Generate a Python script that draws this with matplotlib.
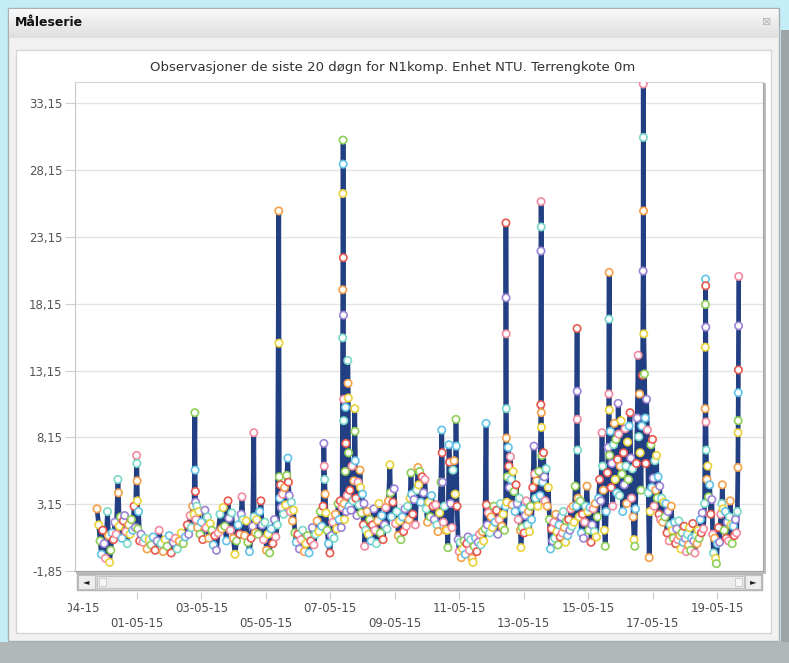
# -*- coding: utf-8 -*-
import numpy as np
import pandas as pd
import matplotlib
matplotlib.use('Agg')
import matplotlib.pyplot as plt
from matplotlib.patches import Rectangle
from matplotlib.colors import LinearSegmentedColormap

# måletidspunkt, timer etter 29-04-15 00:00
timer = [
    # 29.-30. april
    18.2, 19.5, 20.5, 21.5, 22.5, 23.5, 24.5, 26.0, 26.8, 27.6, 28.5, 29.5, 30.5, 31.5, 32.5,
    33.8, 34.2, 34.8, 35.8, 36.8, 37.8, 38.8, 39.8, 40.8, 41.8, 42.8, 43.8, 44.8, 45.8, 46.8,
    47.7, 47.9, 48.1, 48.3, 48.6, 49.2, 50.0,
    # 1.-2. mai
    51.0, 52.5, 54.0, 55.5, 57.0, 58.5, 60.0, 61.5, 63.0, 64.5,
    66.0, 67.5, 69.0, 70.5, 72.0, 73.5, 75.0, 76.5, 78.0, 79.5,
    81.0, 82.5, 84.0, 85.5, 86.5, 87.5, 88.5, 89.5, 90.5, 91.1,
    91.3, 91.5, 91.7, 92.0, 92.6, 93.2, 94.0, 95.0,
    # 3.-4. mai
    96.0, 97.0, 98.6, 99.5, 100.5, 101.5, 102.5, 103.8, 104.8, 106.0,
    107.2, 108.5, 109.8, 111.0, 112.2, 113.4, 114.6, 115.8, 116.6, 117.6,
    118.6, 119.8, 121.0, 122.2, 123.4, 124.6, 125.6, 126.2, 127.0, 128.2,
    129.4, 130.6, 131.8, 133.0, 134.2, 135.0, 135.3, 136.2, 137.2, 138.2,
    139.4, 140.3, 141.2, 142.2, 143.3,
    # 5.-7. mai
    144.4, 145.6, 146.8, 148.0, 149.2, 150.4, 151.4, 152.6, 153.6, 153.8,
    154.0, 154.4, 155.0, 155.6, 156.4, 157.2, 158.0, 158.8, 159.6, 160.4,
    160.8, 161.4, 162.2, 163.0, 163.8, 164.6, 165.6, 166.6, 167.8, 169.0,
    170.2, 171.4, 172.6, 173.8, 175.0, 176.2, 177.4, 178.6, 179.8, 181.0,
    182.2, 183.4, 184.6, 185.6, 186.6, 187.2, 187.5, 187.8, 188.2, 188.8,
    189.6, 190.6, 191.7, 192.8, 193.8, 194.8, 195.8, 196.8, 197.8, 198.6,
    199.4, 200.2,
    # 7. mai, topp
    200.8, 201.2, 201.3, 201.4, 201.5, 201.6, 201.7, 201.8, 201.9, 202.0,
    202.2, 202.6, 203.2, 203.4, 203.6, 203.9, 204.6, 205.0, 205.2, 205.4,
    205.6, 205.9, 206.6, 207.4, 208.2, 208.8, 209.6, 210.2, 210.4, 210.6,
    211.0, 211.8, 212.6, 213.4, 214.1, 214.5, 215.2, 216.0, 216.6, 217.1,
    217.6, 218.4,
    # 8.-10. mai
    219.4, 220.4, 221.4, 222.4, 223.4, 224.4, 225.3, 226.3, 227.3, 228.3,
    229.3, 230.3, 231.3, 232.3, 233.3, 234.3, 235.3, 236.4, 236.8, 237.6,
    238.6, 239.6, 240.6, 241.6, 242.6, 243.6, 244.6, 245.6, 246.6, 247.6,
    248.6, 249.6, 250.6, 251.4, 252.1, 252.6, 253.4, 254.4, 255.4, 256.4,
    257.3, 257.8, 258.6, 259.4, 260.4, 261.4, 262.5, 263.4, 264.4, 265.4,
    266.4, 267.4, 268.5, 269.4, 270.4, 271.4, 272.2,
    # 10.-12. mai
    273.4, 274.4, 275.0, 275.3, 275.6, 276.2, 277.0, 277.8, 279.0, 279.6,
    280.4, 280.8, 281.6, 282.6, 283.4, 284.2, 285.0, 285.6, 285.9, 286.4,
    287.2, 288.0, 288.8, 289.6, 290.6, 291.6, 292.6, 293.6, 294.6, 295.6,
    296.6, 297.6, 298.3, 299.2, 300.2, 301.2, 302.2, 303.2, 304.2, 305.2,
    306.2, 307.2, 308.0, 308.3, 309.0, 309.8, 310.8, 311.8, 312.8, 313.8,
    314.8, 315.8, 316.8, 317.8, 318.8, 319.8, 320.8, 321.8,
    # 12.-13. mai
    322.6, 322.8, 322.9, 323.0, 323.1, 323.2, 323.5, 324.0, 324.6, 325.0,
    325.6, 326.2, 326.8, 327.4, 328.2, 328.8, 329.6, 330.4, 331.2, 332.0,
    332.8, 333.6, 334.0, 334.8, 335.6, 336.4, 337.2, 338.0, 338.8, 339.6,
    340.4, 341.2, 342.0, 342.8, 343.7, 344.2, 345.0, 345.8, 346.6, 347.4,
    348.2, 348.8, 348.9, 349.0, 349.1, 349.2, 349.3, 349.6, 350.2, 350.8,
    351.4, 352.0,
    # 13.-15. mai
    352.8, 353.6, 354.4, 355.2, 356.0, 356.8, 357.6, 358.4, 359.2, 360.0,
    360.8, 361.6, 362.4, 363.2, 364.0, 364.8, 365.6, 366.4, 367.2, 368.0,
    368.8, 369.6, 370.4, 371.2, 372.0, 372.8, 373.6, 374.4, 375.2, 375.8,
    375.9, 376.0, 376.2, 376.6, 377.4, 378.2, 379.0, 379.8, 380.6, 381.4,
    382.2, 383.2, 383.8, 384.6, 385.4, 386.2, 387.0, 387.8, 388.6, 389.4,
    390.2, 391.0, 391.8, 392.6, 393.4, 394.4, 394.8, 395.4, 396.2, 396.8,
    # 15.-17. mai
    397.6, 398.4, 399.0, 399.5, 399.6, 399.7, 399.8, 400.0, 400.6, 401.2,
    401.8, 402.4, 403.0, 403.6, 404.2, 404.8, 405.4, 406.0, 406.4, 406.8,
    407.4, 408.0, 408.6, 409.2, 409.8, 410.4, 411.0, 411.6, 412.2, 412.8,
    413.4, 414.0, 414.6, 415.3, 415.8, 416.4, 417.0, 417.6, 418.2, 418.8,
    419.4, 420.0, 420.6, 421.3, 421.8, 422.4, 422.8, 423.4, 424.0, 424.6,
    425.0, 425.1, 425.2, 425.3, 425.5, 426.0, 426.6, 427.0, 427.6, 428.2,
    428.8, 429.5, 430.2, 430.8, 431.4, 432.0, 432.6, 433.2, 433.8, 434.4,
    435.0, 435.6, 436.2, 436.8, 437.4, 438.0, 438.8, 439.6, 440.4, 441.2,
    # 17.-18. mai
    442.0, 442.8, 443.6, 444.4, 445.2, 446.0, 446.8, 447.6, 448.4, 449.2,
    450.0, 450.8, 451.6, 452.4, 453.2, 454.0, 454.8, 455.6, 456.4, 457.2,
    458.0, 458.8, 459.6, 460.4, 461.2, 462.0, 462.8, 463.6, 464.4, 465.2,
    466.0, 466.8, 467.6, 468.4, 469.1, 470.0, 470.8,
    # 18.-19. mai
    471.2, 471.3, 471.4, 471.5, 471.6, 471.7, 471.8, 472.0, 472.6, 473.2,
    473.8, 474.6, 475.4, 476.2, 476.8, 477.4, 478.2, 479.0, 479.6, 480.4,
    481.2, 482.0, 482.8, 483.6, 484.0, 484.6, 485.4, 486.2, 487.0, 487.8,
    488.6, 489.4, 489.9, 490.6, 491.4, 492.2, 493.0, 493.8, 494.6, 495.2,
    495.6, 495.7, 495.8, 495.9, 496.0, 496.1, 496.2,
]

# måleverdier (NTU)
verdier = [
    # 29.-30. april
    2.8, 1.6, 0.4, -0.6, 1.2, 0.2, -0.9, 2.6, 0.8, -1.2, -0.3, 1.0, 0.5, 1.8, 0.9,
    5.0, 4.0, 1.5, 2.2, 0.6, 1.9, 2.3, 1.1, 0.2, 1.6, 0.9, 2.0, 1.2, 3.0, 1.4,
    6.8, 6.2, 4.9, 3.4, 1.3, 2.6, 0.4,
    # 1.-2. mai
    0.9, 0.3, 0.6, -0.2, 0.5, 0.1, 0.7, -0.3, 0.4, 1.2,
    0.2, -0.4, 0.5, 0.0, 0.8, -0.5, 0.3, 0.6, -0.2, 0.4,
    1.0, 0.2, 0.7, 1.6, 0.9, 2.3, 1.4, 3.0, 2.4, 10.0,
    5.7, 4.1, 3.3, 2.0, 3.0, 1.4, 2.6, 0.9,
    # 3.-4. mai
    1.8, 0.5, 2.7, 1.4, 2.2, 0.6, 1.7, 1.2, 0.1, 0.8,
    -0.3, 1.0, 2.4, 1.3, 2.9, 1.5, 0.4, 3.4, 2.1, 1.2,
    2.5, 0.6, -0.6, 0.4, 1.6, 0.9, 2.4, 3.7, 2.0, 0.8,
    1.9, 0.3, -0.4, 0.6, 1.5, 8.5, 2.2, 1.0, 2.0, 0.9,
    2.6, 3.4, 1.6, 0.5, 1.8,
    # 5.-7. mai
    -0.3, 0.9, -0.5, 1.3, 0.2, 2.0, 0.7, 1.6, 25.1, 15.2,
    5.2, 3.6, 4.6, 2.9, 3.9, 2.4, 4.4, 3.1, 5.3, 6.6,
    4.8, 3.8, 2.6, 3.3, 1.9, 2.7, 1.0, 0.3, 0.9, -0.2,
    0.5, 1.2, -0.4, 0.2, 0.8, -0.5, 0.4, 1.4, 0.1, 0.9,
    1.9, 1.1, 2.6, 1.5, 3.0, 7.7, 6.0, 5.0, 3.9, 2.5,
    1.2, 0.2, -0.5, 0.8, 1.8, 0.6, 2.4, 1.3, 3.2, 2.0,
    3.4, 1.4,
    # 7. mai, topp
    2.9, 15.6, 19.2, 26.4, 30.4, 28.6, 21.6, 17.3, 11.0, 9.4,
    3.2, 2.0, 5.6, 10.4, 7.7, 2.6, 3.8, 13.9, 12.2, 11.1,
    7.0, 3.0, 4.2, 2.7, 6.0, 3.4, 4.9, 10.3, 8.6, 6.4,
    3.6, 2.3, 4.8, 3.1, 5.7, 4.4, 2.5, 3.9, 1.6, 3.2,
    -0.0, 1.2,
    # 8.-10. mai
    2.6, 0.9, 2.0, 0.4, 1.6, 2.8, 1.2, 0.2, 1.9, 3.2,
    1.0, 2.3, 0.5, 1.6, 2.9, 1.3, 3.4, 6.1, 4.0, 2.2,
    3.3, 4.3, 1.7, 2.6, 0.8, 1.9, 0.5, 2.2, 1.1, 2.8,
    1.5, 3.0, 2.0, 3.6, 5.5, 3.9, 2.4, 3.5, 1.6, 4.2,
    5.9, 4.6, 5.6, 3.3, 5.2, 4.0, 5.0, 2.8, 1.8, 3.3,
    2.2, 3.8, 3.0, 2.0, 3.1, 1.6, 1.1,
    # 10.-12. mai
    2.5, 4.8, 8.7, 7.0, 4.8, 1.8, 3.0, 1.2, 1.2, -0.1,
    7.6, 6.3, 3.2, 1.4, 5.7, 6.4, 3.9, 9.5, 7.5, 3.0,
    0.5, -0.4, 0.3, -0.85, -0.2, 0.4, -0.6, 0.2, 0.7, -0.3,
    0.5, -0.9, -1.2, 0.0, 0.6, -0.4, 0.3, 0.9, 0.1, 1.1,
    0.4, 1.3, 9.2, 3.1, 1.6, 2.5, 1.0, 2.2, 1.4, 3.0,
    1.8, 2.7, 0.9, 2.0, 3.2, 1.5, 2.4, 1.2,
    # 12.-13. mai
    3.0, 24.2, 18.6, 15.9, 10.3, 8.1, 3.3, 5.2, 7.4, 6.0,
    4.4, 6.7, 5.0, 3.1, 5.6, 4.1, 2.6, 4.6, 3.2, 2.0,
    3.6, 1.2, -0.1, 1.4, 2.8, 1.0, 2.3, 3.4, 1.6, 2.6,
    1.1, 3.0, 2.0, 4.4, 7.5, 5.4, 3.6, 4.9, 3.0, 5.6,
    3.8, 10.6, 22.1, 25.8, 23.9, 10.0, 8.9, 6.8, 4.8, 7.0,
    5.2, 3.4,
    # 13.-15. mai
    5.8, 3.0, 4.4, 2.0, -0.2, 1.3, 0.4, 1.8, 0.6, 2.4,
    1.1, 0.1, 1.6, 0.7, 2.2, 1.0, 2.6, 1.4, 0.3, 1.9,
    0.8, 2.0, 1.2, 2.8, 1.5, 3.0, 1.8, 4.5, 3.0, 16.3,
    11.6, 9.5, 7.2, 3.6, 2.2, 3.4, 1.0, 2.4, 0.6, 1.8,
    3.0, 4.5, 2.6, 1.2, 2.9, 0.3, 1.6, 2.8, 1.1, 3.2,
    0.7, 2.2, 3.6, 5.0, 3.4, 8.5, 6.0, 4.2, 1.2, 0.0,
    # 15.-17. mai
    2.6, 5.5, 7.4, 11.4, 17.0, 20.5, 10.2, 6.8, 8.6, 4.4,
    6.2, 3.0, 7.6, 9.2, 5.0, 8.0, 4.0, 6.5, 10.7, 8.4,
    3.8, 6.0, 9.4, 5.4, 2.6, 7.0, 4.6, 8.8, 6.0, 3.2,
    7.8, 5.0, 9.0, 10.0, 6.6, 3.6, 5.8, 2.2, 0.5, 0.0,
    2.8, 6.2, 9.6, 14.3, 8.2, 11.4, 7.0, 4.2, 9.0, 12.8,
    20.6, 34.6, 30.6, 25.1, 15.9, 12.9, 9.6, 6.2, 11.0, 8.7,
    4.0, -0.85, 2.6, 7.6, 4.4, 8.0, 5.1, 3.0, 6.4, 4.2,
    6.8, 3.6, 5.2, 2.4, 4.5, 2.0, 3.6, 1.8, 3.3, 2.2,
    # 17.-18. mai
    3.2, 1.0, 2.6, 0.4, 1.6, 3.0, 1.2, 0.6, 1.8, 0.2,
    1.3, 0.5, 1.9, 0.8, -0.2, 1.0, 0.3, 1.5, 0.6, -0.4,
    0.9, 0.1, 1.4, -0.3, 0.6, 1.7, 0.4, -0.5, 0.8, 0.2,
    1.2, 0.6, 2.0, 1.0, 2.5, 1.3, 3.2,
    # 18.-19. mai
    10.3, 14.9, 18.1, 20.0, 19.5, 16.4, 9.3, 7.2, 5.0, 6.0,
    3.7, 4.6, 2.4, 3.5, 0.9, -0.5, 0.6, -0.9, -1.3, 0.2,
    1.4, 0.3, 2.4, 3.2, 4.6, 2.8, 1.2, 2.6, 0.6, 1.8,
    0.4, 2.2, 3.4, 1.6, 0.2, 1.5, 0.8, 2.0, 1.0, 2.6,
    5.9, 8.5, 9.4, 11.5, 13.2, 16.5, 20.2,
]

y_ticks = [-1.85, 3.15, 8.15, 13.15, 18.15, 23.15, 28.15, 33.15]
dato_etiketter = ['29-04-15', '01-05-15', '03-05-15', '05-05-15', '07-05-15', '09-05-15',
                  '11-05-15', '13-05-15', '15-05-15', '17-05-15', '19-05-15']
tittel = 'Observasjoner de siste 20 døgn for N1komp. Enhet NTU. Terrengkote 0m'

assert len(timer) == len(verdier)

W, H = 789, 663
def fx(px): return px / W
def fy(py): return 1 - py / H

start = pd.Timestamp('2015-04-29 00:00')
tider = start + pd.to_timedelta(timer, unit='h')

fig = plt.figure(figsize=(W / 100, H / 100), dpi=100, facecolor='#c4eef7')

def boks(x0, y0, x1, y1, z=-5, **kw):
    r = Rectangle((fx(x0), fy(y1)), fx(x1) - fx(x0), fy(y0) - fy(y1),
                  transform=fig.transFigure, zorder=z, **kw)
    fig.add_artist(r)
    return r

# kartbakgrunn og vindu
boks(0, 642, 789, 663, z=-6, fc='#b0b8ba', ec='none')
boks(781, 30, 789, 642, z=-6, fc='#9da5a7', ec='none')
boks(8, 8, 779, 641, z=-5, fc='#f1f1f1', ec='#a6b0b4', lw=1)
tb = fig.add_axes([fx(9), fy(38), fx(778) - fx(9), (38 - 9) / H], zorder=-4)
tb.imshow(np.linspace(0, 1, 50).reshape(-1, 1), aspect='auto',
          cmap=LinearSegmentedColormap.from_list('tb', ['#fafafa', '#dedede']))
tb.axis('off')
fig.text(fx(15), fy(22), 'Måleserie', fontsize=9, fontweight='bold', color='#111111',
         va='center', ha='left', zorder=5)
fig.text(fx(767), fy(22), '⊠', fontsize=8, color='#b4b4b4', va='center', ha='center', zorder=5)
boks(16, 50, 771, 633, z=-3, fc='white', ec='#d6d6d6', lw=1)
fig.text(fx(393), fy(68), tittel, fontsize=9.5, color='#333333', ha='center', va='center')

# skygge bak plottet
boks(76, 83, 766, 574, z=1, fc='#bdbdbd', ec='none')

ax = fig.add_axes([fx(75), fy(571), fx(763) - fx(75), (571 - 82) / H], zorder=3)
ax.set_facecolor('white')
palett = ['#f5a04a', '#e9d23a', '#8fcf55', '#63c3e6', '#e8584e', '#9c83d6', '#f28aa0', '#7ad8c8']
farger = [palett[i % len(palett)] for i in range(len(verdier))]
ax.plot(tider, verdier, color='#213f82', lw=3.4, zorder=2)
ax.scatter(tider, verdier, s=28, facecolors='white', edgecolors=farger, linewidths=1.2, zorder=3)

t0 = start + pd.Timedelta(hours=1.82)
t1 = start + pd.Timedelta(hours=514.3)
ax.set_xlim(t0, t1)
ax.set_ylim(-1.85, 34.75)
ax.set_yticks(y_ticks, labels=[f'{v:.2f}'.replace('.', ',') for v in y_ticks])
ax.tick_params(axis='y', length=7, color='#cfcfcf', labelsize=8.5, labelcolor='#555555', pad=2)
ax.tick_params(axis='x', bottom=False, labelbottom=False)
ax.grid(axis='y', color='#e4e4e4', lw=1)
ax.set_axisbelow(True)
for side, c in [('left', '#c8c8c8'), ('top', '#d4d4d4'), ('right', '#a4a4a4'), ('bottom', '#a4a4a4')]:
    ax.spines[side].set_color(c)

# rullefelt
boks(77, 574, 762, 590, z=4, fc='#dadada', ec='#b2b2b2', lw=1)
boks(78, 575, 95, 589, z=4, fc='#eeeeee', ec='#c0c0c0', lw=0.8)
boks(97, 576, 744, 588, z=4, fc='#ececec', ec='#c2c2c2', lw=0.8)
boks(99, 578, 106, 586, z=4, fc='#f6f6f6', ec='#c6c6c6', lw=0.6)
boks(735, 578, 742, 586, z=4, fc='#f6f6f6', ec='#c6c6c6', lw=0.6)
boks(745, 575, 761, 589, z=4, fc='#eeeeee', ec='#c0c0c0', lw=0.8)
fig.text(fx(86), fy(582), '◄', fontsize=6, color='#222222', ha='center', va='center', zorder=5)
fig.text(fx(753), fy(582), '►', fontsize=6, color='#222222', ha='center', va='center', zorder=5)

# datoakse under rullefeltet
px_time = (763 - 75) / (514.3 - 1.82)
ax_t = fig.add_axes([fx(68), fy(592), fx(763) - fx(68), 0.0001], zorder=3)
ax_t.set_xlim(start + pd.Timedelta(hours=1.82 - 7 / px_time), t1)
ax_t.patch.set_visible(False)
for s in ax_t.spines.values():
    s.set_visible(False)
ax_t.set_yticks([])
dager = pd.date_range('2015-04-29', periods=len(dato_etiketter), freq='2D')
ax_t.set_xticks(dager, labels=[('\n' if i % 2 else '') + d for i, d in enumerate(dato_etiketter)])
ax_t.tick_params(axis='x', direction='out', length=5, color='#c8c8c8', labelsize=8.5,
                 labelcolor='#4d4d4d', pad=2)
klipp = Rectangle((fx(68), 0), 1, 1, transform=fig.transFigure)
forste = ax_t.xaxis.get_major_ticks()[0]
forste.label1.set_clip_path(klipp)
forste.tick1line.set_visible(False)

fig.savefig('out.png', dpi=100, facecolor=fig.get_facecolor())
